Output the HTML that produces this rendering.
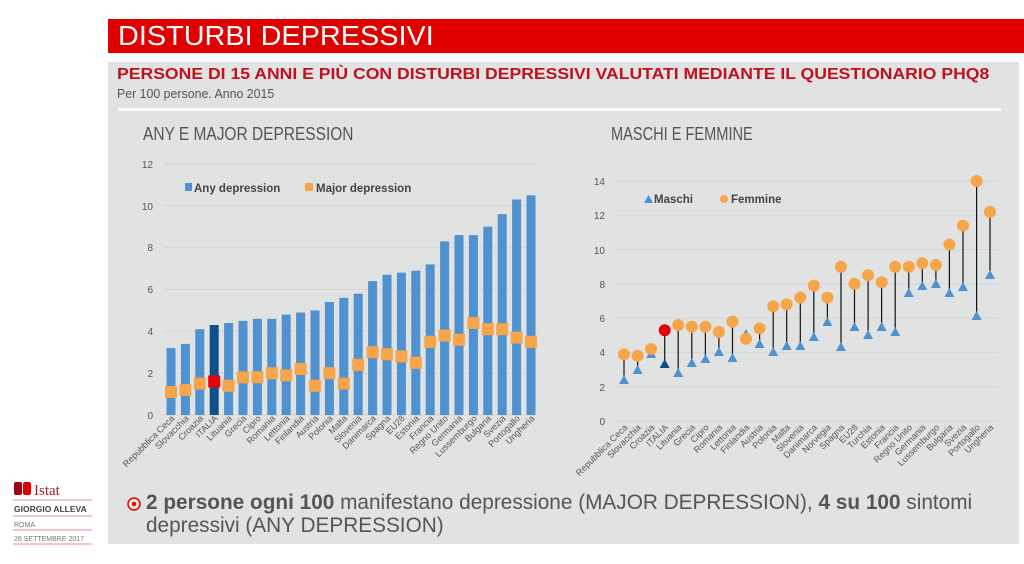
<!DOCTYPE html>
<html><head><meta charset="utf-8"><style>
body{margin:0;width:1024px;height:564px;background:#fff;position:relative;overflow:hidden;font-family:"Liberation Sans",sans-serif}
.ab{position:absolute}
</style></head><body>
<div class="ab" style="left:108px;top:19px;width:916px;height:34px;background:#e00000"></div>
<div class="ab" style="left:118px;top:20px;font-size:28px;color:#fff;transform:scaleX(1.03);transform-origin:left;white-space:nowrap">DISTURBI DEPRESSIVI</div>
<div class="ab" style="left:108px;top:62px;width:911px;height:482px;background:#e1e2e2"></div>
<div class="ab" style="left:117px;top:66px;font-size:16px;font-weight:bold;color:#c0111e;transform:scaleX(1.1);transform-origin:left;white-space:nowrap">PERSONE DI 15 ANNI E PIÙ CON DISTURBI DEPRESSIVI VALUTATI MEDIANTE IL QUESTIONARIO PHQ8</div>
<div class="ab" style="left:117px;top:86px;font-size:13px;color:#555;transform:scaleX(0.95);transform-origin:left;white-space:nowrap">Per 100 persone. Anno 2015</div>
<div class="ab" style="left:118px;top:108px;width:883px;height:3px;background:#fff"></div>
<div class="ab" style="left:143px;top:124px;font-size:18px;color:#555;transform:scaleX(0.86);transform-origin:left;white-space:nowrap">ANY E MAJOR DEPRESSION</div>
<div class="ab" style="left:611px;top:124px;font-size:18px;color:#555;transform:scaleX(0.81);transform-origin:left;white-space:nowrap">MASCHI E FEMMINE</div>

<svg class="ab" style="left:0;top:0" width="1024" height="564" font-family="Liberation Sans, sans-serif">
<g stroke="#d4d4d4" stroke-width="1">
<line x1="164" x2="538" y1="415" y2="415"/><line x1="164" x2="538" y1="373.2" y2="373.2"/><line x1="164" x2="538" y1="331.3" y2="331.3"/><line x1="164" x2="538" y1="289.5" y2="289.5"/><line x1="164" x2="538" y1="247.6" y2="247.6"/><line x1="164" x2="538" y1="205.8" y2="205.8"/><line x1="164" x2="538" y1="164" y2="164"/>
<line x1="615" x2="998" y1="421" y2="421"/><line x1="615" x2="998" y1="386.7" y2="386.7"/><line x1="615" x2="998" y1="352.4" y2="352.4"/><line x1="615" x2="998" y1="318.2" y2="318.2"/><line x1="615" x2="998" y1="283.9" y2="283.9"/><line x1="615" x2="998" y1="249.6" y2="249.6"/><line x1="615" x2="998" y1="215.3" y2="215.3"/><line x1="615" x2="998" y1="181" y2="181"/>
</g>
<g font-size="10" fill="#555" text-anchor="end">
<text x="153" y="419">0</text><text x="153" y="377">2</text><text x="153" y="335">4</text><text x="153" y="293">6</text><text x="153" y="251">8</text><text x="153" y="210">10</text><text x="153" y="168">12</text>
<text x="605" y="425">0</text><text x="605" y="391">2</text><text x="605" y="356">4</text><text x="605" y="322">6</text><text x="605" y="288">8</text><text x="605" y="254">10</text><text x="605" y="219">12</text><text x="605" y="185">14</text>
</g>
<g fill="#4f92cf">
<rect x="166.5" y="348.1" width="9" height="66.9"/><rect x="180.9" y="343.9" width="9" height="71.1"/><rect x="195.3" y="329.2" width="9" height="85.8"/><rect x="209.7" y="325" width="9" height="90" fill="#0e4f8a"/><rect x="224.1" y="323" width="9" height="92"/><rect x="238.5" y="320.9" width="9" height="94.1"/><rect x="252.9" y="318.8" width="9" height="96.2"/><rect x="267.3" y="318.8" width="9" height="96.2"/><rect x="281.7" y="314.6" width="9" height="100.4"/><rect x="296.1" y="312.5" width="9" height="102.5"/><rect x="310.5" y="310.4" width="9" height="104.6"/><rect x="324.9" y="302" width="9" height="113"/><rect x="339.3" y="297.8" width="9" height="117.2"/><rect x="353.7" y="293.7" width="9" height="121.3"/><rect x="368.1" y="281.1" width="9" height="133.9"/><rect x="382.5" y="274.8" width="9" height="140.2"/><rect x="396.9" y="272.7" width="9" height="142.3"/><rect x="411.3" y="270.7" width="9" height="144.3"/><rect x="425.7" y="264.4" width="9" height="150.6"/><rect x="440.1" y="241.4" width="9" height="173.6"/><rect x="454.5" y="235.1" width="9" height="179.9"/><rect x="468.9" y="235.1" width="9" height="179.9"/><rect x="483.3" y="226.7" width="9" height="188.3"/><rect x="497.7" y="214.2" width="9" height="200.8"/><rect x="512.1" y="199.5" width="9" height="215.5"/><rect x="526.5" y="195.3" width="9" height="219.7"/>
<rect x="185" y="183" width="7" height="8"/>
</g>
<g fill="#f7a54a">
<rect x="165" y="386" width="12" height="12"/><rect x="179.4" y="383.9" width="12" height="12"/><rect x="193.8" y="377.6" width="12" height="12"/><rect x="208.2" y="375.5" width="12" height="12" fill="#e8000d"/><rect x="222.6" y="379.7" width="12" height="12"/><rect x="237" y="371.3" width="12" height="12"/><rect x="251.4" y="371.3" width="12" height="12"/><rect x="265.8" y="367.2" width="12" height="12"/><rect x="280.2" y="369.3" width="12" height="12"/><rect x="294.6" y="363" width="12" height="12"/><rect x="309" y="379.7" width="12" height="12"/><rect x="323.4" y="367.2" width="12" height="12"/><rect x="337.8" y="377.6" width="12" height="12"/><rect x="352.2" y="358.8" width="12" height="12"/><rect x="366.6" y="346.2" width="12" height="12"/><rect x="381" y="348.3" width="12" height="12"/><rect x="395.4" y="350.4" width="12" height="12"/><rect x="409.8" y="356.7" width="12" height="12"/><rect x="424.2" y="335.8" width="12" height="12"/><rect x="438.6" y="329.5" width="12" height="12"/><rect x="453" y="333.7" width="12" height="12"/><rect x="467.4" y="317" width="12" height="12"/><rect x="481.8" y="323.2" width="12" height="12"/><rect x="496.2" y="323.2" width="12" height="12"/><rect x="510.6" y="331.6" width="12" height="12"/><rect x="525" y="335.8" width="12" height="12"/>
<rect x="305" y="183" width="8" height="8"/>
</g>
<g font-size="11.5" fill="#444" font-weight="bold"><text x="194" y="192">Any depression</text><text x="316" y="192">Major depression</text>
<text x="654" y="203">Maschi</text><text x="731" y="203">Femmine</text></g>
<polygon points="644,203 653,203 648.5,195" fill="#4f92cf"/><circle cx="724" cy="199" r="4" fill="#f7a54a"/>
<g font-size="9" fill="#555" text-anchor="end">
<text transform="translate(175,419) rotate(-45)">Repubblica Ceca</text><text transform="translate(189.4,419) rotate(-45)">Slovacchia</text><text transform="translate(203.8,419) rotate(-45)">Croazia</text><text transform="translate(218.2,419) rotate(-45)">ITALIA</text><text transform="translate(232.6,419) rotate(-45)">Lituania</text><text transform="translate(247,419) rotate(-45)">Grecia</text><text transform="translate(261.4,419) rotate(-45)">Cipro</text><text transform="translate(275.8,419) rotate(-45)">Romania</text><text transform="translate(290.2,419) rotate(-45)">Lettonia</text><text transform="translate(304.6,419) rotate(-45)">Finlandia</text><text transform="translate(319,419) rotate(-45)">Austria</text><text transform="translate(333.4,419) rotate(-45)">Polonia</text><text transform="translate(347.8,419) rotate(-45)">Malta</text><text transform="translate(362.2,419) rotate(-45)">Slovenia</text><text transform="translate(376.6,419) rotate(-45)">Danimarca</text><text transform="translate(391,419) rotate(-45)">Spagna</text><text transform="translate(405.4,419) rotate(-45)">EU28</text><text transform="translate(419.8,419) rotate(-45)">Estonia</text><text transform="translate(434.2,419) rotate(-45)">Francia</text><text transform="translate(448.6,419) rotate(-45)">Regno Unito</text><text transform="translate(463,419) rotate(-45)">Germania</text><text transform="translate(477.4,419) rotate(-45)">Lussemburgo</text><text transform="translate(491.8,419) rotate(-45)">Bulgaria</text><text transform="translate(506.2,419) rotate(-45)">Svezia</text><text transform="translate(520.6,419) rotate(-45)">Portogallo</text><text transform="translate(535,419) rotate(-45)">Ungheria</text>
<text transform="translate(628,428) rotate(-45)">Repubblica Ceca</text><text transform="translate(641.6,428) rotate(-45)">Slovacchia</text><text transform="translate(655.1,428) rotate(-45)">Croazia</text><text transform="translate(668.7,428) rotate(-45)">ITALIA</text><text transform="translate(682.2,428) rotate(-45)">Lituania</text><text transform="translate(695.8,428) rotate(-45)">Grecia</text><text transform="translate(709.4,428) rotate(-45)">Cipro</text><text transform="translate(722.9,428) rotate(-45)">Romania</text><text transform="translate(736.5,428) rotate(-45)">Lettonia</text><text transform="translate(750,428) rotate(-45)">Finlandia</text><text transform="translate(763.6,428) rotate(-45)">Austria</text><text transform="translate(777.2,428) rotate(-45)">Polonia</text><text transform="translate(790.7,428) rotate(-45)">Malta</text><text transform="translate(804.3,428) rotate(-45)">Slovenia</text><text transform="translate(817.8,428) rotate(-45)">Danimarca</text><text transform="translate(831.4,428) rotate(-45)">Norvegia</text><text transform="translate(845,428) rotate(-45)">Spagna</text><text transform="translate(858.5,428) rotate(-45)">EU28</text><text transform="translate(872.1,428) rotate(-45)">Turchia</text><text transform="translate(885.6,428) rotate(-45)">Estonia</text><text transform="translate(899.2,428) rotate(-45)">Francia</text><text transform="translate(912.8,428) rotate(-45)">Regno Unito</text><text transform="translate(926.3,428) rotate(-45)">Germania</text><text transform="translate(939.9,428) rotate(-45)">Lussemburgo</text><text transform="translate(953.4,428) rotate(-45)">Bulgaria</text><text transform="translate(967,428) rotate(-45)">Svezia</text><text transform="translate(980.6,428) rotate(-45)">Portogallo</text><text transform="translate(994,428) rotate(-45)">Ungheria</text>
</g>
<g stroke="#111" stroke-width="1.2">
<line x1="624" x2="624" y1="379.9" y2="354.2"/><line x1="637.6" x2="637.6" y1="369.6" y2="355.9"/><line x1="651.1" x2="651.1" y1="354.2" y2="349"/><line x1="664.7" x2="664.7" y1="364.4" y2="330.2"/><line x1="678.2" x2="678.2" y1="373" y2="325"/><line x1="691.8" x2="691.8" y1="362.7" y2="326.7"/><line x1="705.4" x2="705.4" y1="359.3" y2="326.7"/><line x1="718.9" x2="718.9" y1="352.4" y2="331.9"/><line x1="732.5" x2="732.5" y1="357.6" y2="321.6"/><line x1="746" x2="746" y1="333.6" y2="338.7"/><line x1="759.6" x2="759.6" y1="343.9" y2="328.4"/><line x1="773.2" x2="773.2" y1="352.4" y2="306.2"/><line x1="786.7" x2="786.7" y1="345.6" y2="304.4"/><line x1="800.3" x2="800.3" y1="345.6" y2="297.6"/><line x1="813.8" x2="813.8" y1="337" y2="285.6"/><line x1="827.4" x2="827.4" y1="321.6" y2="297.6"/><line x1="841" x2="841" y1="347.3" y2="266.7"/><line x1="854.5" x2="854.5" y1="326.7" y2="283.9"/><line x1="868.1" x2="868.1" y1="335.3" y2="275.3"/><line x1="881.6" x2="881.6" y1="326.7" y2="282.2"/><line x1="895.2" x2="895.2" y1="331.9" y2="266.7"/><line x1="908.8" x2="908.8" y1="292.5" y2="266.7"/><line x1="922.3" x2="922.3" y1="285.6" y2="263.3"/><line x1="935.9" x2="935.9" y1="283.9" y2="265"/><line x1="949.4" x2="949.4" y1="292.5" y2="244.5"/><line x1="963" x2="963" y1="287.3" y2="225.6"/><line x1="976.6" x2="976.6" y1="316.4" y2="181"/><line x1="990" x2="990" y1="275.3" y2="211.9"/>
</g>
<g fill="#4f92cf">
<polygon points="619,384 629,384 624,375"/><polygon points="632.6,374 642.6,374 637.6,365"/><polygon points="646.1,358 656.1,358 651.1,349"/><polygon points="659.7,368 669.7,368 664.7,359" fill="#0e4f8a"/><polygon points="673.2,377 683.2,377 678.2,368"/><polygon points="686.8,367 696.8,367 691.8,358"/><polygon points="700.4,363 710.4,363 705.4,354"/><polygon points="713.9,356 723.9,356 718.9,347"/><polygon points="727.5,362 737.5,362 732.5,353"/><polygon points="741,338 751,338 746,329"/><polygon points="754.6,348 764.6,348 759.6,339"/><polygon points="768.2,356 778.2,356 773.2,347"/><polygon points="781.7,350 791.7,350 786.7,341"/><polygon points="795.3,350 805.3,350 800.3,341"/><polygon points="808.8,341 818.8,341 813.8,332"/><polygon points="822.4,326 832.4,326 827.4,317"/><polygon points="836,351 846,351 841,342"/><polygon points="849.5,331 859.5,331 854.5,322"/><polygon points="863.1,339 873.1,339 868.1,330"/><polygon points="876.6,331 886.6,331 881.6,322"/><polygon points="890.2,336 900.2,336 895.2,327"/><polygon points="903.8,297 913.8,297 908.8,288"/><polygon points="917.3,290 927.3,290 922.3,281"/><polygon points="930.9,288 940.9,288 935.9,279"/><polygon points="944.4,297 954.4,297 949.4,288"/><polygon points="958,291 968,291 963,282"/><polygon points="971.6,320 981.6,320 976.6,311"/><polygon points="985,279 995,279 990,270"/>
</g>
<g fill="#f7a54a">
<circle cx="624" cy="354.2" r="6"/><circle cx="637.6" cy="355.9" r="6"/><circle cx="651.1" cy="349" r="6"/><circle cx="664.7" cy="330.2" r="6" fill="#e8000d"/><circle cx="678.2" cy="325" r="6"/><circle cx="691.8" cy="326.7" r="6"/><circle cx="705.4" cy="326.7" r="6"/><circle cx="718.9" cy="331.9" r="6"/><circle cx="732.5" cy="321.6" r="6"/><circle cx="746" cy="338.7" r="6"/><circle cx="759.6" cy="328.4" r="6"/><circle cx="773.2" cy="306.2" r="6"/><circle cx="786.7" cy="304.4" r="6"/><circle cx="800.3" cy="297.6" r="6"/><circle cx="813.8" cy="285.6" r="6"/><circle cx="827.4" cy="297.6" r="6"/><circle cx="841" cy="266.7" r="6"/><circle cx="854.5" cy="283.9" r="6"/><circle cx="868.1" cy="275.3" r="6"/><circle cx="881.6" cy="282.2" r="6"/><circle cx="895.2" cy="266.7" r="6"/><circle cx="908.8" cy="266.7" r="6"/><circle cx="922.3" cy="263.3" r="6"/><circle cx="935.9" cy="265" r="6"/><circle cx="949.4" cy="244.5" r="6"/><circle cx="963" cy="225.6" r="6"/><circle cx="976.6" cy="181" r="6"/><circle cx="990" cy="211.9" r="6"/>
</g>
<circle cx="134" cy="504" r="6" fill="none" stroke="#e00000" stroke-width="1.5"/><circle cx="134" cy="504" r="2.2" fill="#e00000"/>
<rect x="14" y="482" width="8" height="13" fill="#a0001a" rx="2"/><rect x="23" y="482" width="8" height="13" fill="#e00000" rx="2"/>
<text x="34" y="495" font-family="Liberation Serif, serif" font-size="15" fill="#9a1b2a">Istat</text>
<g stroke="#f2a0aa" stroke-width="1.3"><line x1="13" x2="92" y1="500" y2="500"/><line x1="13" x2="92" y1="516" y2="516"/><line x1="13" x2="92" y1="530" y2="530"/><line x1="13" x2="92" y1="544" y2="544"/></g>
<g font-size="8" fill="#444"><text x="14" y="512" font-size="8.5" font-weight="bold">GIORGIO ALLEVA</text><text x="14" y="527" font-size="7" fill="#777">ROMA</text><text x="14" y="541" font-size="7" fill="#777">26 SETTEMBRE 2017</text></g>
</svg>
<div class="ab" style="left:146px;top:491px;font-size:21px;color:#555;line-height:23px;width:880px;transform:scaleX(0.99);transform-origin:left;white-space:nowrap"><b>2 persone ogni 100</b> manifestano depressione (MAJOR DEPRESSION), <b>4 su 100</b> sintomi<br>depressivi (ANY DEPRESSION)</div>
</body></html>
